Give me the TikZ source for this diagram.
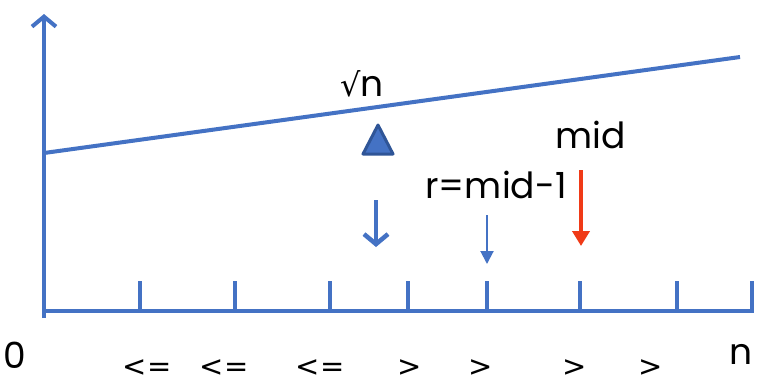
\documentclass[tikz,border=0pt]{standalone}
\usepackage{fontspec}
\setmainfont{Poppins}
\newfontfamily\symfont{DejaVu Sans}
\usetikzlibrary{arrows.meta}
\definecolor{axblue}{HTML}{4472C4}
\definecolor{darkblue}{HTML}{2F5597}
\definecolor{redarr}{HTML}{F03A17}
\tikzset{
  axis/.style={draw=axblue, line width=4.5pt},
  tick/.style={draw=axblue, line width=4pt},
  lbl/.style={font=\fontsize{36}{38}\selectfont, text=black, inner sep=0pt},
  blbl/.style={font=\fontsize{29}{31}\selectfont\symfont, text=black, inner sep=0pt,
    text height=18pt, text depth=0pt, anchor=base}
}
\begin{document}
\begin{tikzpicture}[x=1pt,y=-1pt]
\fill[white] (0,0) rectangle (762,384);
\useasboundingbox (0,0) rectangle (762,384);
% axes
\coordinate (o) at (44,311);
\coordinate (ytop) at (44,14);
\coordinate (ybot) at (44,318);
\coordinate (xend) at (754,311);
\draw[axis, -{Straight Barb[length=10pt,width=24pt,line width=4pt]}] (ybot) -- (ytop);
\draw[axis] (o) -- (xend);
\foreach \x in {140,235,330,408,487,580,677,752}{
  \draw[tick] (\x,311) -- (\x,281);
}
% slope line
\coordinate (l1) at (44,153);
\coordinate (l2) at (740,57);
\draw[axis, line width=4pt] (l1) -- (l2);
% sqrt n label
\node[lbl] (sqrtn) at (362,84) {{\symfont\fontsize{32}{34}\selectfont √}n};
% triangle
\draw[draw=darkblue, fill=axblue, line width=3pt, line join=round] (378,125) -- (393,154) -- (363,154) -- cycle;
% labels
\node[lbl] (mid) at (591,135) {mid};
\node[lbl] (rmid) at (496,185) {r=mid-1};
% arrows
\coordinate (a1s) at (376,200);
\coordinate (a1e) at (376,247);
\draw[draw=axblue, line width=4.5pt, -{Straight Barb[length=10pt,width=24pt,line width=4.5pt]}] (a1s) -- (a1e);
\coordinate (a2s) at (487,215);
\coordinate (a2e) at (487,264);
\draw[draw=axblue, line width=2pt, -{Triangle[length=13pt,width=13pt]}] (a2s) -- (a2e);
\coordinate (a3s) at (581,170);
\coordinate (a3e) at (581,246);
\draw[draw=redarr, fill=redarr, line width=4pt, -{Triangle[length=15pt,width=17pt]}] (a3s) -- (a3e);
% bottom labels
\node[lbl] (zero) at (15,355) {0};
\node[lbl] (n) at (741,354) {n};
\node[blbl] (b1) at (147,376) {\char"3C\char"3D};
\node[blbl] (b2) at (224,376) {\char"3C\char"3D};
\node[blbl] (b3) at (320,376) {\char"3C\char"3D};
\node[blbl] (b4) at (410,376) {\char"3E};
\node[blbl] (b5) at (481,376) {\char"3E};
\node[blbl] (b6) at (575,376) {\char"3E};
\node[blbl] (b7) at (651,376) {\char"3E};
\end{tikzpicture}
\end{document}
